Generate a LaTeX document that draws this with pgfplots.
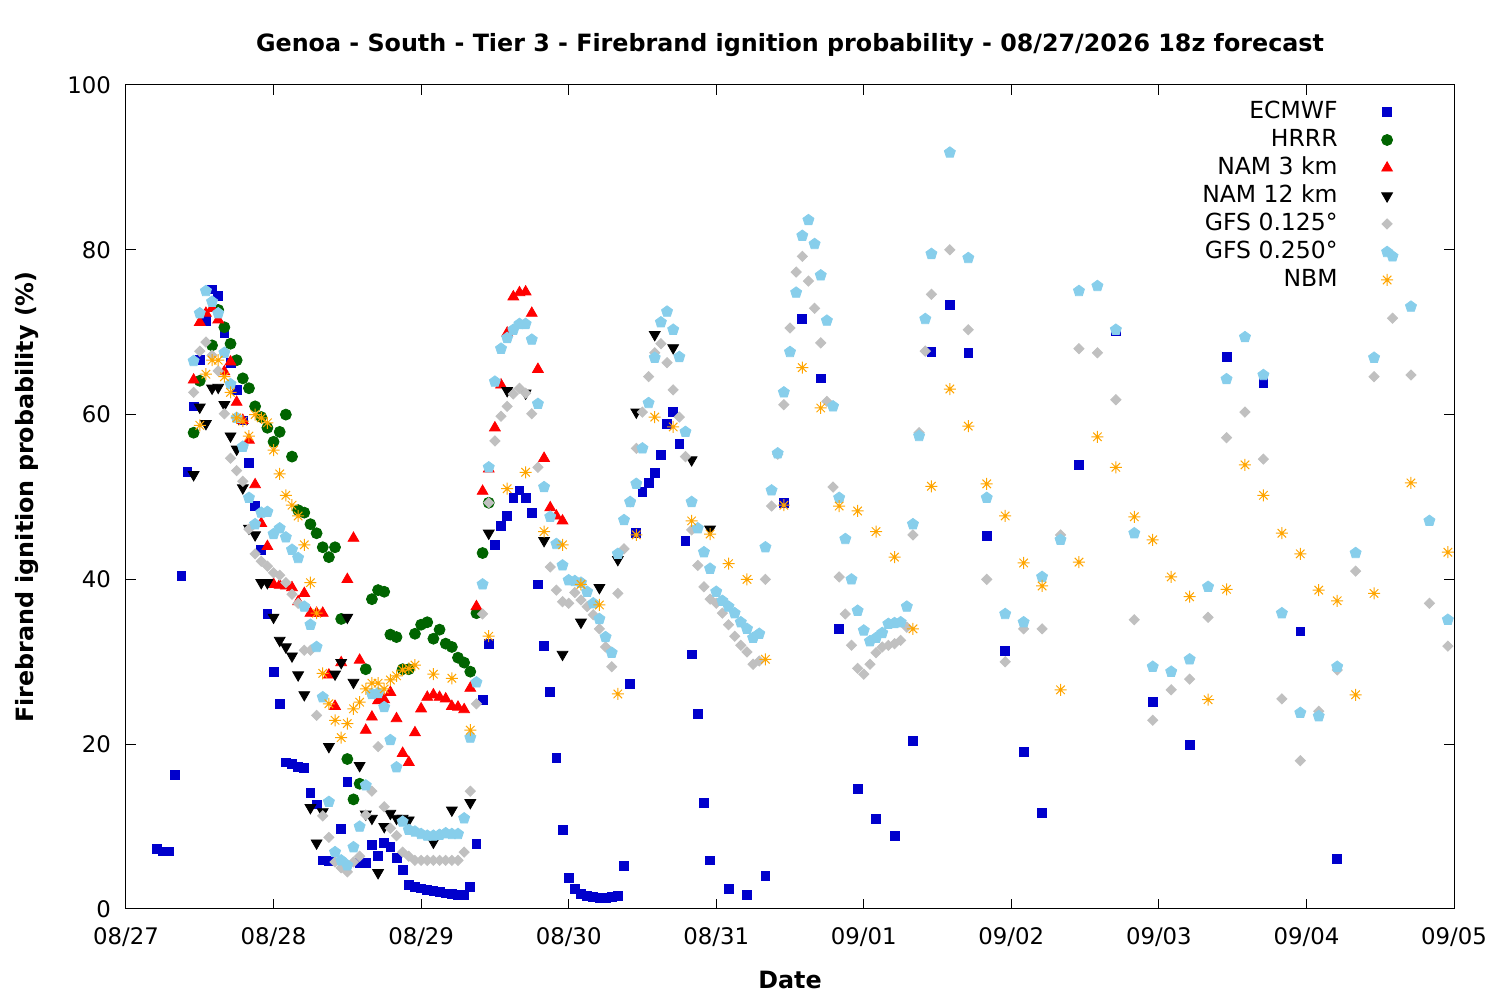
\documentclass[border=0pt]{standalone}
\usepackage{fontspec}
\setmainfont{DejaVu Sans}
\usepackage{pgfplots}
\pgfplotsset{compat=1.18}
\definecolor{ecmwf}{RGB}{0,0,204}
\definecolor{hrrr}{RGB}{0,100,0}
\definecolor{nam3}{RGB}{255,0,0}
\definecolor{gfsa}{RGB}{192,192,192}
\definecolor{gfsb}{RGB}{135,206,235}
\definecolor{nbm}{RGB}{255,165,0}
\pgfdeclareplotmark{star8}{%
  \pgfpathmoveto{\pgfqpoint{-\pgfplotmarksize}{0pt}}\pgfpathlineto{\pgfqpoint{\pgfplotmarksize}{0pt}}%
  \pgfpathmoveto{\pgfqpoint{0pt}{-\pgfplotmarksize}}\pgfpathlineto{\pgfqpoint{0pt}{\pgfplotmarksize}}%
  \pgfpathmoveto{\pgfqpoint{-0.7071\pgfplotmarksize}{-0.7071\pgfplotmarksize}}\pgfpathlineto{\pgfqpoint{0.7071\pgfplotmarksize}{0.7071\pgfplotmarksize}}%
  \pgfpathmoveto{\pgfqpoint{-0.7071\pgfplotmarksize}{0.7071\pgfplotmarksize}}\pgfpathlineto{\pgfqpoint{0.7071\pgfplotmarksize}{-0.7071\pgfplotmarksize}}%
  \pgfusepathqstroke}
\pgfplotsset{mymk/.style={only marks, legend image code/.code={\path (0pt,0pt) (17pt,0pt); \draw[##1] plot coordinates {(8.5pt,0pt)};}}}
\begin{document}
\begin{tikzpicture}
\useasboundingbox (0,0) rectangle (750pt,500pt);
\begin{axis}[
  at={(63pt,45.5pt)}, anchor=south west,
  scale only axis, width=664pt, height=412pt,
  xmin=0, xmax=216, ymin=0, ymax=100,
  xtick={0,24,...,216},
  xticklabels={08/27,08/28,08/29,08/30,08/31,09/01,09/02,09/03,09/04,09/05},
  ytick={0,20,...,100},
  /pgf/number format/assume math mode=true,
  tick label style={font=\fontsize{11.4}{13}\selectfont},
  xticklabel style={yshift=-6pt},
  yticklabel style={xshift=-4pt},
  major tick length=5pt,
  axis line style={line width=0.5pt},
  every tick/.style={black, line width=0.5pt},
  title={Genoa - South - Tier 3 - Firebrand ignition probability - 08/27/2026 18z forecast},
  title style={font=\bfseries\fontsize{11.9}{14}\selectfont, at={(axis description cs:0.5,1.034)}, anchor=center},
  xlabel={Date},
  xlabel style={font=\bfseries\fontsize{11.9}{14}\selectfont, at={(axis description cs:0.5,-0.0862)}, anchor=center},
  ylabel={Firebrand ignition probability (\%)},
  ylabel style={font=\bfseries\fontsize{11.9}{14}\selectfont, at={(axis description cs:-0.0745,0.5)}, anchor=center},
  legend style={draw=none, fill=none, at={(axis description cs:1,1)}, anchor=north east,
    xshift=-24.5pt, yshift=-6.3pt, inner xsep=0pt, inner ysep=0pt, row sep=0pt, column sep=15pt,
    font=\fontsize{11.75}{14}\selectfont,
    nodes={inner sep=1pt, text height=9.5pt, text depth=2.5pt}},
  legend cell align=right, legend plot pos=right,
]
\addplot[mymk, mark=square*, color=ecmwf, mark size=2.2pt] coordinates {
(5,7.3)(6,7.0)(7,7.0)(8,16.3)(9,40.4)(10,53.0)(11,61.0)(12,66.6)(13,71.4)(14,75.2)(15,74.4)(16,69.9)(17,66.3)(18,63.0)(19,59.3)(20,54.1)(21,48.9)(22,43.6)(23,35.8)(24,28.8)(25,24.9)(26,17.8)(27,17.6)(28,17.2)(29,17.1)(30,14.1)(31,12.7)(32,5.9)(33,5.8)(35,9.7)(36,15.4)(38,5.6)(39,5.6)(40,7.8)(41,6.4)(42,8.0)(43,7.5)(44,6.2)(45,4.7)(46,2.9)(47,2.7)(48,2.5)(49,2.3)(50,2.2)(51,2.1)(52,1.9)(53,1.8)(54,1.7)(55,1.7)(56,2.7)(57,7.9)(58,25.4)(59,32.2)(60,44.2)(61,46.5)(62,47.7)(63,49.9)(64,50.8)(65,49.9)(66,48.1)(67,39.4)(68,31.9)(69,26.3)(70,18.3)(71,9.6)(72,3.8)(73,2.4)(74,1.8)(75,1.6)(76,1.5)(77,1.3)(78,1.3)(79,1.5)(80,1.6)(81,5.2)(82,27.3)(83,45.6)(84,50.6)(85,51.7)(86,52.9)(87,55.1)(88,58.9)(89,60.3)(90,56.4)(91,44.7)(92,30.9)(93,23.7)(94,12.9)(95,5.9)(98,2.4)(101,1.7)(104,4.0)(107,49.3)(110,71.6)(113,64.4)(116,34.0)(119,14.6)(122,10.9)(125,8.9)(128,20.4)(131,67.6)(134,73.3)(137,67.5)(140,45.3)(143,31.3)(146,19.1)(149,11.7)(155,53.9)(161,70.1)(167,25.1)(173,19.9)(179,67.0)(185,63.8)(191,33.7)(197,6.1)
};
\addlegendentry{ECMWF}
\addplot[mymk, mark=*, color=hrrr, mark size=2.75pt] coordinates {
(11,57.8)(12,64.1)(14,68.4)(15,72.7)(16,70.6)(17,68.6)(18,66.6)(19,64.4)(20,63.2)(21,61.0)(22,59.7)(23,58.4)(24,56.7)(25,57.9)(26,60.0)(27,54.9)(28,48.4)(29,48.1)(30,46.7)(31,45.6)(32,43.9)(33,42.7)(34,43.9)(35,35.2)(36,18.2)(37,13.3)(38,15.2)(39,29.1)(40,37.6)(41,38.7)(42,38.5)(43,33.3)(44,33.0)(45,29.1)(46,29.1)(47,33.4)(48,34.5)(49,34.8)(50,32.8)(51,33.9)(52,32.2)(53,31.8)(54,30.5)(55,29.9)(56,28.8)(57,35.9)(58,43.2)(59,49.3)
};
\addlegendentry{HRRR}
\addplot[mymk, mark=triangle*, color=nam3, mark size=3.1pt] coordinates {
(11,64.2)(12,71.2)(13,72.3)(14,72.9)(15,71.5)(16,65.2)(17,66.4)(18,61.5)(19,59.3)(20,56.9)(21,51.5)(22,46.8)(23,44.0)(24,39.4)(25,39.3)(26,39.2)(27,39.0)(28,37.3)(29,38.3)(30,35.9)(31,35.9)(32,35.9)(33,28.4)(34,24.6)(35,29.9)(36,40.0)(37,45.0)(38,30.2)(39,21.7)(40,23.3)(41,25.3)(42,25.4)(43,26.3)(44,23.1)(45,18.9)(46,17.8)(47,21.4)(48,24.3)(49,25.7)(50,26.0)(51,25.7)(52,25.5)(53,24.6)(54,24.5)(55,24.2)(56,26.8)(57,36.7)(58,50.7)(59,53.4)(60,58.4)(61,63.6)(62,69.9)(63,74.3)(64,74.8)(65,74.9)(66,72.3)(67,65.5)(68,54.7)(69,48.7)(70,47.7)(71,47.1)
};
\addlegendentry{NAM 3 km}
\addplot[mymk, mark=triangle*, mark options={rotate=180}, color=black, mark size=3.1pt] coordinates {
(11,52.7)(12,60.9)(13,58.9)(14,63.2)(15,63.3)(16,61.2)(17,57.4)(18,55.8)(19,51.1)(20,46.2)(21,45.4)(22,39.6)(23,39.6)(24,35.4)(25,32.6)(26,31.8)(27,30.7)(28,28.4)(29,26.0)(30,12.3)(31,8.0)(32,11.8)(33,19.7)(34,28.5)(35,29.9)(36,35.4)(37,27.5)(38,17.4)(39,11.5)(40,11.0)(41,4.4)(42,10.0)(43,11.6)(44,11.0)(45,11.0)(46,10.8)(50,8.1)(53,12.0)(56,12.9)(59,45.6)(62,62.9)(65,62.6)(68,44.7)(71,30.9)(74,34.8)(77,39.0)(80,42.4)(83,60.3)(86,69.7)(89,68.1)(92,54.5)(95,46.1)
};
\addlegendentry{NAM 12 km}
\addplot[mymk, mark=square*, mark options={rotate=45}, color=gfsa, mark size=1.8pt] coordinates {
(11,62.7)(12,67.7)(13,68.8)(14,67.2)(15,65.3)(16,60.1)(17,54.7)(18,53.2)(19,51.9)(20,46.1)(21,43.1)(22,42.2)(23,41.6)(24,40.8)(25,40.5)(26,39.6)(27,38.2)(28,37.1)(29,31.4)(30,31.4)(31,23.5)(32,11.3)(33,8.7)(34,5.7)(35,5.0)(36,4.5)(37,5.7)(38,6.4)(39,11.4)(40,14.3)(41,19.7)(42,12.4)(43,9.8)(44,8.9)(45,6.9)(46,6.4)(47,5.9)(48,5.9)(49,5.9)(50,5.9)(51,5.9)(52,5.9)(53,5.9)(54,5.9)(55,6.9)(56,14.3)(57,24.9)(58,35.8)(59,49.3)(60,56.8)(61,59.8)(62,61.0)(63,62.5)(64,63.2)(65,62.6)(66,60.1)(67,53.6)(69,41.5)(70,38.7)(71,37.3)(72,37.1)(73,38.4)(74,37.5)(75,36.7)(76,35.7)(77,34.0)(78,31.8)(79,29.4)(80,38.3)(81,43.7)(82,49.4)(83,55.9)(84,60.3)(85,64.6)(86,67.5)(87,68.6)(88,66.3)(89,63.0)(90,59.7)(91,54.9)(92,46.0)(93,41.7)(94,39.1)(95,37.6)(96,37.1)(97,35.9)(98,34.5)(99,33.1)(100,32.0)(101,31.2)(102,29.7)(103,30.1)(104,40.0)(105,48.9)(106,55.2)(107,61.2)(108,70.5)(109,77.3)(110,79.2)(111,76.2)(112,72.9)(113,68.7)(114,61.6)(115,51.2)(116,40.3)(117,35.8)(118,32.0)(119,29.2)(120,28.5)(121,29.7)(122,31.1)(123,31.8)(124,32.0)(125,32.2)(126,32.6)(127,34.2)(128,45.4)(129,57.8)(130,67.7)(131,74.6)(134,80.0)(137,70.3)(140,40.0)(143,30.0)(146,34.0)(149,34.0)(152,45.4)(155,68.0)(158,67.5)(161,61.8)(164,35.1)(167,22.9)(170,26.6)(173,27.9)(176,35.4)(179,57.2)(182,60.3)(185,54.6)(188,25.5)(191,18.0)(194,24.0)(197,29.0)(200,41.0)(203,64.6)(206,71.7)(209,64.8)(212,37.1)(215,31.9)
};
\addlegendentry{GFS 0.125°}
\addplot[mymk, mark=pentagon*, color=gfsb, mark size=2.9pt] coordinates {
(11,66.5)(12,72.3)(13,75.0)(14,73.7)(15,72.3)(16,67.5)(17,63.7)(18,59.6)(19,56.1)(20,49.9)(21,46.7)(22,48.1)(23,48.2)(24,45.5)(25,46.2)(26,45.1)(27,43.6)(28,42.6)(29,36.7)(30,34.5)(31,31.8)(32,25.7)(33,13.0)(34,6.9)(35,5.9)(36,5.3)(37,7.5)(38,10.0)(39,15.0)(40,26.1)(41,26.2)(42,24.5)(43,20.5)(44,17.2)(45,10.6)(46,9.6)(47,9.4)(48,9.1)(49,8.9)(50,8.9)(51,9.0)(52,9.2)(53,9.1)(54,9.1)(55,11.0)(56,20.8)(57,27.5)(58,39.4)(59,53.6)(60,64.0)(61,68.0)(62,69.3)(63,70.3)(64,71.0)(65,71.0)(66,69.1)(67,61.3)(68,51.2)(69,47.6)(70,44.3)(71,41.7)(72,39.9)(73,39.8)(74,39.6)(75,38.5)(76,37.1)(77,35.2)(78,33.0)(79,31.1)(80,43.1)(81,47.2)(82,49.4)(83,51.6)(84,55.9)(85,61.4)(86,66.9)(87,71.2)(88,72.5)(89,70.3)(90,67.0)(91,57.9)(92,49.4)(93,46.2)(94,43.3)(95,41.3)(96,38.5)(97,37.4)(98,36.7)(99,35.9)(100,34.8)(101,34.0)(102,32.9)(103,33.4)(104,43.9)(105,50.8)(106,55.3)(107,62.7)(108,67.6)(109,74.8)(110,81.7)(111,83.6)(112,80.7)(113,76.9)(114,71.4)(115,61.0)(116,49.9)(117,44.9)(118,40.0)(119,36.2)(120,33.8)(121,32.5)(122,32.9)(123,33.5)(124,34.6)(125,34.7)(126,34.8)(127,36.7)(128,46.7)(129,57.4)(130,71.6)(131,79.5)(134,91.8)(137,79.0)(140,49.9)(143,35.8)(146,34.8)(149,40.3)(152,44.8)(155,75.0)(158,75.6)(161,70.3)(164,45.6)(167,29.4)(170,28.8)(173,30.3)(176,39.1)(179,64.3)(182,69.4)(185,64.8)(188,35.9)(191,23.8)(194,23.4)(197,29.4)(200,43.2)(203,66.9)(206,79.2)(209,73.1)(212,47.1)(215,35.1)
};
\addlegendentry{GFS 0.250°}
\addplot[mymk, mark=star8, color=nbm, mark size=3pt, line width=0.5pt] coordinates {
(12,58.7)(13,64.9)(14,66.6)(15,66.6)(16,64.6)(17,62.7)(18,59.6)(19,59.2)(20,57.4)(21,60.0)(22,59.6)(23,59.0)(24,55.7)(25,52.8)(26,50.2)(27,49.0)(28,47.7)(29,44.2)(30,39.6)(31,35.9)(32,28.6)(33,24.9)(34,22.9)(35,20.8)(36,22.5)(37,24.3)(38,25.1)(39,26.7)(40,27.4)(41,27.4)(42,26.7)(43,27.8)(44,28.3)(45,29.0)(46,29.2)(47,29.6)(50,28.5)(53,28.0)(56,21.7)(59,33.1)(62,51.0)(65,53.0)(68,45.8)(71,44.2)(74,39.4)(77,36.9)(80,26.1)(83,45.4)(86,59.7)(89,58.5)(92,47.1)(95,45.5)(98,41.9)(101,40.0)(104,30.3)(107,49.0)(110,65.7)(113,60.8)(116,48.9)(119,48.3)(122,45.8)(125,42.7)(128,34.0)(131,51.3)(134,63.1)(137,58.6)(140,51.6)(143,47.7)(146,42.0)(149,39.2)(152,26.6)(155,42.1)(158,57.3)(161,53.6)(164,47.6)(167,44.8)(170,40.3)(173,37.9)(176,25.4)(179,38.8)(182,53.9)(185,50.2)(188,45.6)(191,43.1)(194,38.7)(197,37.4)(200,26.0)(203,38.3)(209,51.7)(215,43.3)
};
\addlegendentry{NBM}
\end{axis}
\end{tikzpicture}
\end{document}
